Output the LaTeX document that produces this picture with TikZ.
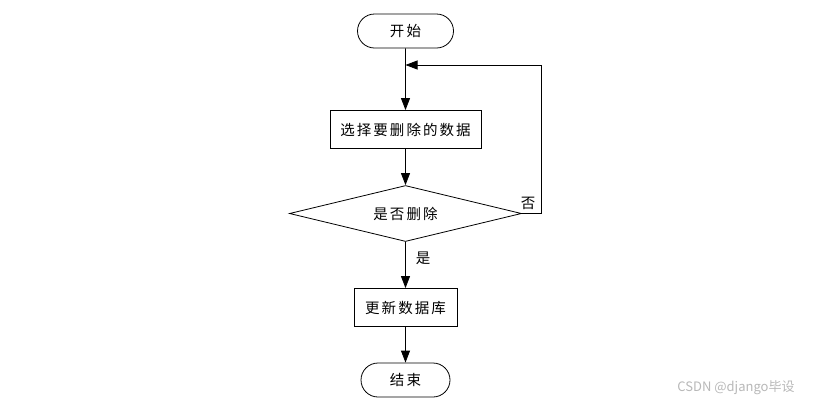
\documentclass[tikz,border=0pt]{standalone}
\usepackage{fontspec}
\usetikzlibrary{shapes.geometric,shapes.misc,arrows.meta}
\newfontfamily\cjk[LetterSpace=14]{Noto Sans CJK SC}
\newfontfamily\markfont{Noto Sans CJK SC}
\tikzset{
  base/.style={draw=black, line width=0.8pt, font=\cjk\fontsize{14.5}{16}\selectfont, inner sep=0pt},
  terminal/.style={base, rounded rectangle, minimum width=#1, minimum height=34pt},
  procbox/.style={base, rectangle, minimum width=#1, minimum height=38pt},
  decision/.style={base, diamond, aspect=4.1, minimum width=232pt, minimum height=56pt},
  flow/.style={line width=0.8pt, -{Triangle[length=12pt,width=9pt]}},
  lab/.style={font=\cjk\fontsize{14.5}{16}\selectfont, inner sep=0pt},
}
\begin{document}
\begin{tikzpicture}[x=1pt,y=-1pt]
  \useasboundingbox (0,0) rectangle (817,405);
  \node[terminal=96pt] (start) at (405.5,31) {开始};
  \node[procbox=151pt] (select) at (405.5,129.5) {选择要删除的数据};
  \node[decision] (ask) at (405.5,213.5) {是否删除};
  \node[procbox=103pt] (update) at (405.5,307.5) {更新数据库};
  \node[terminal=89pt] (stop) at (405.5,380) {结束};
  \coordinate (loopR) at (541,213.5);
  \coordinate (loopT) at (541,65);
  \coordinate (join) at (405.5,65);

  \draw[flow] (start) -- (select);
  \draw[flow] (select) -- (ask);
  \draw[flow] (ask) -- node[lab, right=10pt, pos=0.35] {是} (update);
  \draw[flow] (update) -- (stop);
  \draw[flow] (ask.east) -- (loopR) -- (loopT) -- (join);
  \node[lab] (no) at (528,203) {否};

  \node[font=\markfont\fontsize{13}{15}\selectfont, text=black!28, inner sep=0pt] (mark) at (736,388) {CSDN @django毕设};
\end{tikzpicture}
\end{document}
